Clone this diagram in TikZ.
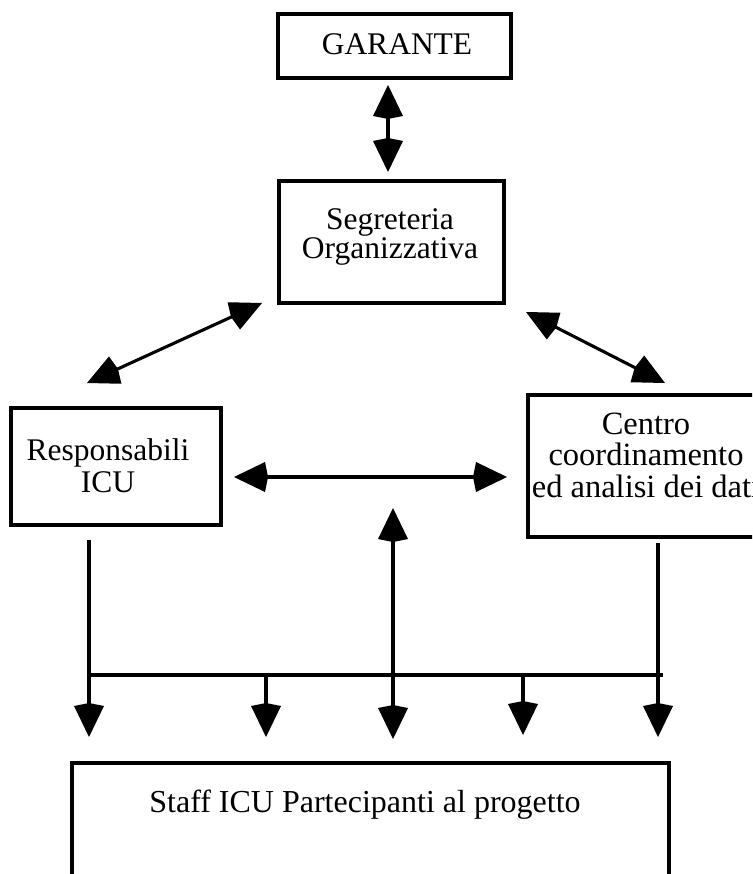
\documentclass[tikz,border=0pt]{standalone}
\usepackage{fontspec}
\setmainfont{Liberation Serif}
\usetikzlibrary{arrows.meta}
\begin{document}
\begin{tikzpicture}[x=1pt,y=-1pt,
  box/.style={draw, line width=3.1pt, inner sep=0pt},
  lbl/.style={font=\fontsize{31.5}{32}\selectfont, align=center, inner sep=0pt},
  tip/.tip={Kite[length=34pt,width=30pt,inset=3pt]},
  conn/.style={line width=3.1pt, -tip},
  dconn/.style={line width=3.1pt, tip-tip},
  busline/.style={line width=3.1pt}]
\useasboundingbox (0,0) rectangle (752,874);
\clip (0,0) rectangle (752,874);
% boxes
\node[box, minimum width=233pt, minimum height=64pt] (garante) at (394.5,46) {};
\node[box, minimum width=225pt, minimum height=122pt] (segr) at (391.5,242) {};
\node[box, minimum width=210pt, minimum height=117pt] (resp) at (116,466.5) {};
\node[box, minimum width=252pt, minimum height=142pt] (centro) at (654,466) {};
\node[box, minimum width=597pt, minimum height=160pt] (staff) at (370.5,843) {};
% texts
\node[lbl, anchor=base] (tgar) at (397,55) {GARANTE};
\node[lbl, font=\fontsize{31.5}{28.5}\selectfont] (tsegr) at (390,237) {Segreteria\\Organizzativa};
\node[lbl] (tresp) at (108,466) {Responsabili\\ICU};
\node[lbl, font=\fontsize{32.5}{31.5}\selectfont] (tcentro) at (646,455) {Centro\\coordinamento\\ed analisi dei dati};
\node[lbl, font=\fontsize{32}{32}\selectfont, anchor=base] (tstaff) at (365,812) {Staff ICU Partecipanti al progetto};
% connector end points
\coordinate (g1) at (388,85);
\coordinate (g2) at (388,172);
\coordinate (sl) at (262,303);
\coordinate (rl) at (87,383);
\coordinate (sr) at (526,312);
\coordinate (cr) at (665,383);
\coordinate (hl) at (234,477);
\coordinate (hr) at (507,477);
\coordinate (vu) at (393,508);
\coordinate (vd) at (393,739);
\coordinate (r1) at (89,540);
\coordinate (r2) at (89,737);
\coordinate (c1) at (658,543);
\coordinate (c2) at (658,737);
\coordinate (b1) at (88,675);
\coordinate (b2) at (663,675);
\coordinate (d2a) at (266,675);
\coordinate (d2b) at (266,737);
\coordinate (d4a) at (523,675);
\coordinate (d4b) at (523,735);
% connectors
\draw[dconn] (g1) -- (g2);
\draw[dconn] (rl) -- (sl);
\draw[dconn] (sr) -- (cr);
\draw[dconn] (hl) -- (hr);
\draw[dconn] (vu) -- (vd);
\draw[conn] (r1) -- (r2);
\draw[conn] (c1) -- (c2);
\draw[busline] (b1) -- (b2);
\draw[conn] (d2a) -- (d2b);
\draw[conn] (d4a) -- (d4b);
\end{tikzpicture}
\end{document}
